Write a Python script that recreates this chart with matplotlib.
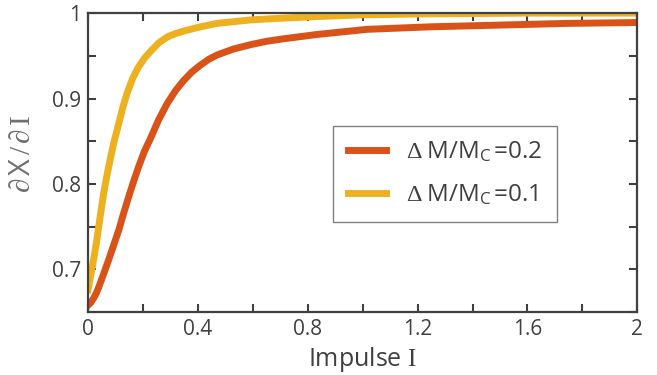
import matplotlib
matplotlib.use("Agg")
import matplotlib.pyplot as plt
import numpy as np

# curve values
impulse_a = [0.0, 0.01, 0.02, 0.03, 0.039, 0.055, 0.075, 0.093, 0.112, 0.13, 0.148, 0.166,
             0.184, 0.205, 0.227, 0.257, 0.288, 0.318, 0.348, 0.378, 0.409, 0.44, 0.47,
             0.53, 0.591, 0.65, 0.713, 0.834, 1.016, 1.25, 1.5, 1.75, 2.0]
dm02 = [0.658, 0.661, 0.666, 0.672, 0.679, 0.693, 0.711, 0.728, 0.746, 0.766, 0.785, 0.803,
        0.820, 0.838, 0.853, 0.875, 0.894, 0.909, 0.921, 0.931, 0.939, 0.946, 0.951,
        0.958, 0.963, 0.967, 0.970, 0.975, 0.981, 0.984, 0.986, 0.988, 0.989]

impulse_b = [0.0, 0.01, 0.02, 0.03, 0.039, 0.048, 0.057, 0.066, 0.075, 0.093, 0.112, 0.127,
             0.142, 0.163, 0.184, 0.205, 0.227, 0.257, 0.288, 0.318, 0.348, 0.41, 0.47,
             0.591, 0.7, 0.834, 1.0, 1.2, 1.6, 2.0]
dm01 = [0.676, 0.693, 0.711, 0.730, 0.750, 0.770, 0.789, 0.805, 0.820, 0.847, 0.871, 0.890,
        0.906, 0.924, 0.937, 0.947, 0.955, 0.965, 0.972, 0.976, 0.979, 0.984, 0.988,
        0.992, 0.994, 0.996, 0.998, 0.999, 1.0, 1.0]

labels = [r"$\Delta\;$M/M$_{\mathsf{C}}\,$=0.2", r"$\Delta\;$M/M$_{\mathsf{C}}\,$=0.1"]
colors = ["#D95319", "#EDB120"]

plt.rcParams["font.family"] = ["Open Sans", "DejaVu Sans"]
plt.rcParams["mathtext.fontset"] = "custom"
plt.rcParams["mathtext.rm"] = "Liberation Serif"
plt.rcParams["mathtext.sf"] = "Open Sans"
plt.rcParams["mathtext.it"] = "Liberation Serif:italic"

grey = "#404040"

fig = plt.figure(figsize=(6.57, 3.75), dpi=100)
ax = fig.add_axes([0.134, 0.168, 0.836, 0.797])

ax.plot(impulse_a, dm02, color=colors[0], lw=5, label=labels[0])
ax.plot(impulse_b, dm01, color=colors[1], lw=5, label=labels[1])

ax.set_xlim(0, 2)
ax.set_ylim(0.65, 1.0)
ax.set_xticks(np.arange(0, 2.01, 0.4))
ax.set_xticklabels(["0", "0.4", "0.8", "1.2", "1.6", "2"])
ax.set_xticks(np.arange(0, 2.01, 0.2), minor=True)
ax.set_yticks([0.7, 0.8, 0.9, 1.0])
ax.set_yticklabels(["0.7", "0.8", "0.9", "1"])
ax.set_yticks(np.arange(0.65, 1.001, 0.05), minor=True)

ax.tick_params(which="both", direction="in", top=True, right=True, color=grey,
               width=1.5, length=6, labelsize=15, labelcolor=grey, pad=5)
for s in ax.spines.values():
    s.set_color(grey)
    s.set_linewidth(1.6)

ax.set_xlabel(r"Impulse $\mathrm{I}$", fontsize=18, color=grey, labelpad=4)
ax.set_ylabel(r"$\partial\,$X$\,/\,\partial\,\mathrm{I}$", fontsize=21, color="#707070")
ax.yaxis.set_label_coords(-0.093, 0.528)

leg = ax.legend(loc="upper left", bbox_to_anchor=(0.446, 0.622), fontsize=17.5,
                handlelength=1.6, handletextpad=0.8, borderpad=0.6, labelspacing=0.75,
                borderaxespad=0, fancybox=False, framealpha=1, edgecolor="#808080",
                labelcolor=grey)
leg.get_frame().set_linewidth(1.0)

fig.savefig("out.png", dpi=100)
